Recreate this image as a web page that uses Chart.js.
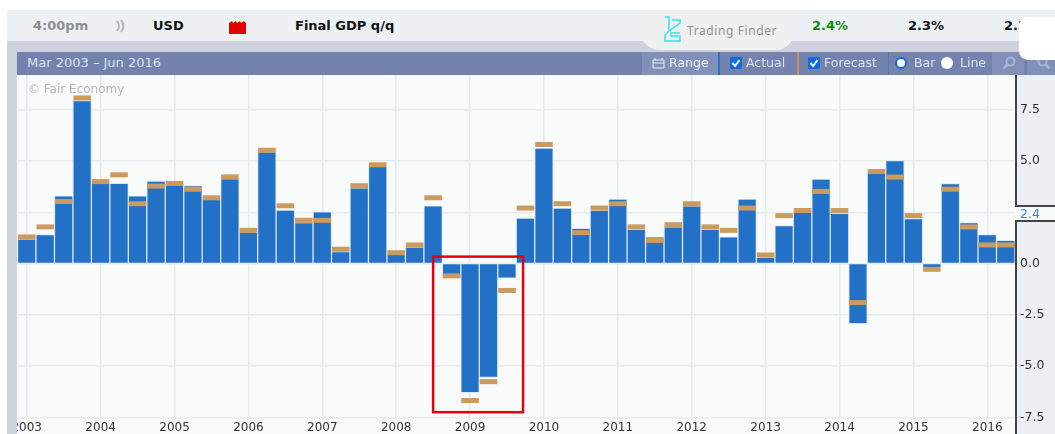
<!DOCTYPE html>
<html><head><meta charset="utf-8">
<script src="https://cdn.jsdelivr.net/npm/chart.js@4"></script>
<style>
html,body{margin:0;padding:0;background:#fff;width:1055px;height:434px;overflow:hidden}
body{position:relative;font-family:"DejaVu Sans",sans-serif}
.a{position:absolute}
.t{position:absolute;white-space:nowrap;line-height:16px}
.b{font-weight:bold;font-size:13px;color:#111}
.w{font-size:13px;color:#dde2ee}
.n{font-size:12.5px}
canvas{position:absolute;left:0;top:0;z-index:2}
.top{z-index:3}
.cb{position:absolute;width:12px;height:12px;background:#0f6ae0;border-radius:2px;top:57px;z-index:4}
.cb svg{display:block}
</style></head><body>
<!-- page chrome -->
<div class="a" style="left:7px;top:10px;width:1048px;height:31px;background:#eef1f4"></div>
<div class="a top" style="left:7px;top:41px;width:1048px;height:11px;background:#cfd2de"></div>
<div class="a top" style="left:7px;top:52px;width:10px;height:382px;background:#cfd2de"></div>
<div class="a" style="left:17px;top:75px;width:1038px;height:359px;background:#f9fbfb"></div>
<div class="a" style="left:1015px;top:75px;width:40px;height:132px;background:#ecf0f4;border-left:2px solid #444;border-bottom:2px solid #444;box-sizing:border-box"></div>
<div class="a" style="left:1015px;top:220px;width:40px;height:214px;background:#ecf0f4;border-left:2px solid #444;border-top:2px solid #444;box-sizing:border-box"></div>

<div class="t b" style="left:33px;top:18px;color:#8b8f94">4:00pm</div>
<svg class="a" style="left:114px;top:19px" width="12" height="14"><path d="M3 2q4 5 0 10M7 1q5 6 0 12" stroke="#b4b8bc" stroke-width="2" fill="none"/></svg>
<div class="t b" style="left:153px;top:18px">USD</div>
<svg class="a" style="left:229px;top:20px" width="17" height="14"><path d="M0 14V3l3-2 1 2 3-2 1 2 3-2 1 2 3-2 2 2v11z" fill="#e30000"/></svg>
<div class="t b" style="left:295px;top:18px">Final GDP q/q</div>

<div class="a top" style="left:640px;top:10px;width:155px;height:40px;background:#eff1f0;border-radius:0 0 20px 20px"></div>
<svg class="a top" style="left:663px;top:16px" width="20" height="27"><path d="M2 1h4v14l11-8v-3H9M2 17h0M6 15l-4 4v6h15v-5H8v-3h9" fill="none" stroke="#2fe6ea" stroke-width="1.5"/></svg>
<div class="t top" style="left:687px;top:23px;font-size:12px;color:#8d9295;font-family:'Noto Sans';letter-spacing:.6px">Trading Finder</div>

<div class="t b" style="left:812px;top:18px;color:#118a11">2.4%</div>
<div class="t b" style="left:908px;top:18px">2.3%</div>
<div class="t b" style="left:1004px;top:18px">2.3%</div>

<!-- toolbar -->
<div class="a top" style="left:17px;top:52px;width:1038px;height:23px;background:#7383ad"></div>
<div class="a top" style="left:642px;top:52px;width:76px;height:23px;background:#8090b8"></div>
<div class="a top" style="left:718px;top:52px;width:2px;height:23px;background:#2f6fc4"></div>
<div class="a top" style="left:797px;top:52px;width:2px;height:23px;background:#c8924f"></div>
<div class="a top" style="left:888px;top:52px;width:1px;height:23px;background:#6574a0"></div>
<div class="a top" style="left:992px;top:52px;width:32px;height:23px;background:#8090b8"></div>
<div class="a top" style="left:1027px;top:52px;width:28px;height:23px;background:#8090b8"></div>
<div class="t w top" style="left:27px;top:55px">Mar 2003 – Jun 2016</div>
<svg class="a top" style="left:652px;top:57px" width="13" height="12"><path d="M1 3h11v8H1zM1 6h11M3 3V1M10 3V1" stroke="#e8ebf3" fill="none"/></svg>
<div class="t w n top" style="left:669px;top:55px;color:#f2f4f8">Range</div>
<div class="cb" style="left:730px"><svg width="12" height="12"><path d="M2.5 6l2.6 3 4.5-6" stroke="#fff" stroke-width="2" fill="none"/></svg></div>
<div class="t w n top" style="left:746px;top:55px">Actual</div>
<div class="cb" style="left:808px"><svg width="12" height="12"><path d="M2.5 6l2.6 3 4.5-6" stroke="#fff" stroke-width="2" fill="none"/></svg></div>
<div class="t w n top" style="left:824px;top:55px">Forecast</div>
<div class="a top" style="left:895px;top:57px;width:12px;height:12px;border-radius:50%;background:#fff;box-sizing:border-box;border:2.5px solid #0f6ae0"></div>
<div class="t w n top" style="left:914px;top:55px">Bar</div>
<div class="a top" style="left:941px;top:57px;width:12px;height:12px;border-radius:50%;background:#fff"></div>
<div class="t w n top" style="left:960px;top:55px">Line</div>
<svg class="a top" style="left:1002px;top:56px" width="14" height="14"><circle cx="8.5" cy="5.5" r="4" stroke="#a9b4cf" stroke-width="2" fill="none"/><path d="M5.5 8.5L1.5 12.5" stroke="#a9b4cf" stroke-width="2.5"/></svg>
<svg class="a top" style="left:1037px;top:56px" width="14" height="14"><circle cx="5.5" cy="5.5" r="4" stroke="#a9b4cf" stroke-width="2" fill="none"/><path d="M8.5 8.5L12.5 12.5" stroke="#a9b4cf" stroke-width="2.5"/></svg>
<div class="a top" style="left:1019px;top:17px;width:36px;height:43px;background:#fff;border-radius:9px 0 0 9px"></div>

<div class="t top" style="left:28px;top:81px;font-size:12px;color:#b3b6b8">© Fair Economy</div>

<canvas id="c" width="1055" height="434"></canvas>
<script>
const categories = [
 "Mar 2003","Jun 2003","Sep 2003","Dec 2003","Mar 2004","Jun 2004","Sep 2004","Dec 2004",
 "Mar 2005","Jun 2005","Sep 2005","Dec 2005","Mar 2006","Jun 2006","Sep 2006","Dec 2006",
 "Mar 2007","Jun 2007","Sep 2007","Dec 2007","Mar 2008","Jun 2008","Sep 2008","Dec 2008",
 "Mar 2009","Jun 2009","Sep 2009","Dec 2009","Mar 2010","Jun 2010","Sep 2010","Dec 2010",
 "Mar 2011","Jun 2011","Sep 2011","Dec 2011","Mar 2012","Jun 2012","Sep 2012","Dec 2012",
 "Mar 2013","Jun 2013","Sep 2013","Dec 2013","Mar 2014","Jun 2014","Sep 2014","Dec 2014",
 "Mar 2015","Jun 2015","Sep 2015","Dec 2015","Mar 2016","Jun 2016"];
const actual = [
 1.2,1.41,3.31,7.95, 3.91,3.91,3.31,4.02, 3.85,3.8,3.15,4.15,
 1.55,5.45,2.61,2.0, 2.53,0.58,3.7,4.75, 0.45,0.8,2.82,-0.7,
 -6.3,-5.55,-0.71,2.22, 5.63,2.71,1.72,2.6, 3.15,1.67,1.3,1.79,
 2.82,1.67,1.3,3.15, 0.31,1.85,2.5,4.12, 2.45,-2.93,4.4,5.03,
 2.2,-0.2,3.9,2.0, 1.41,1.13];
const forecast = [
 1.3,1.79,3.03,8.08, 4.0,4.33,2.92,3.78, 3.91,3.63,3.21,4.23,
 1.62,5.53,2.82,2.11, 2.11,0.7,3.8,4.82, 0.53,0.91,3.21,-0.6,
 -6.68,-5.76,-1.31,2.71, 5.81,2.92,1.51,2.71, 2.92,1.79,1.13,1.9,
 2.92,1.79,1.62,2.71, 0.42,2.34,2.59,3.52, 2.59,-1.9,4.49,4.22,
 2.34,-0.28,3.63,1.79, 0.91,0.91];
const yTicks = [-7.5,-5,-2.5,0,2.4,2.5,5,7.5];
const latestActual = 2.4;
const highlight = {fromIndex:22, toIndex:26.87, top:0.34, bottom:-7.25};

const highlightBox = {
  id:'highlightBox',
  afterDatasetsDraw(chart){
    const {ctx, scales:{x,y}} = chart;
    const l = x.getPixelForValue(highlight.fromIndex), r = x.getPixelForValue(highlight.toIndex);
    const t = y.getPixelForValue(highlight.top), b = y.getPixelForValue(highlight.bottom);
    ctx.save(); ctx.strokeStyle='#e3000f'; ctx.lineWidth=2.5; ctx.strokeRect(l,t,r-l,b-t); ctx.restore();
  }
};

new Chart(document.getElementById('c'),{
  type:'bar',
  data:{labels:categories,datasets:[
    {type:'line',label:'Forecast',data:forecast,showLine:false,order:0,
     pointStyle:'line',pointRadius:8.8,pointHoverRadius:8.8,pointBorderWidth:5,
     pointBorderColor:'#cd9a5e',pointBackgroundColor:'#cd9a5e',clip:false},
    {type:'bar',label:'Actual',data:actual,order:1,backgroundColor:'#2271c6',
     borderColor:'#d5e7f4',borderWidth:1,barPercentage:1,categoryPercentage:1}
  ]},
  plugins:[highlightBox],
  options:{
    responsive:false,animation:false,events:[],
    layout:{padding:{left:17.5,top:75,right:0,bottom:0}},
    plugins:{legend:{display:false},title:{display:false},tooltip:{enabled:false}},
    scales:{
      x:{type:'category',offset:true,
         grid:{offset:false,drawTicks:false,lineWidth:1.5,
               color:c=>c.index%4===0?'#e6ebee':'transparent'},
         border:{display:false},
         afterFit(s){s.height=13},
         ticks:{autoSkip:false,maxRotation:0,minRotation:0,padding:0,
                font:{family:'"DejaVu Sans"',size:12},color:'#333',
                callback(v,i){return i%4===0?categories[i].slice(4):''}}},
      y:{position:'right',min:-7.64,max:9.2,
         grid:{drawTicks:false,lineWidth:1.5,
               color:c=>c.tick&&c.tick.value===latestActual?'transparent':'#e6ebee'},
         border:{display:false},
         afterFit(s){s.width=40},
         afterBuildTicks(s){s.ticks=yTicks.map(v=>({value:v}))},
         ticks:{padding:5,font:{family:'"DejaVu Sans"',size:12.5},
                color:c=>c.tick&&c.tick.value===latestActual?'#3f86cf':'#333',
                callback(v){return v===2.5?'':v.toFixed(1)}}}
    }
  }
});
</script>
</body></html>
